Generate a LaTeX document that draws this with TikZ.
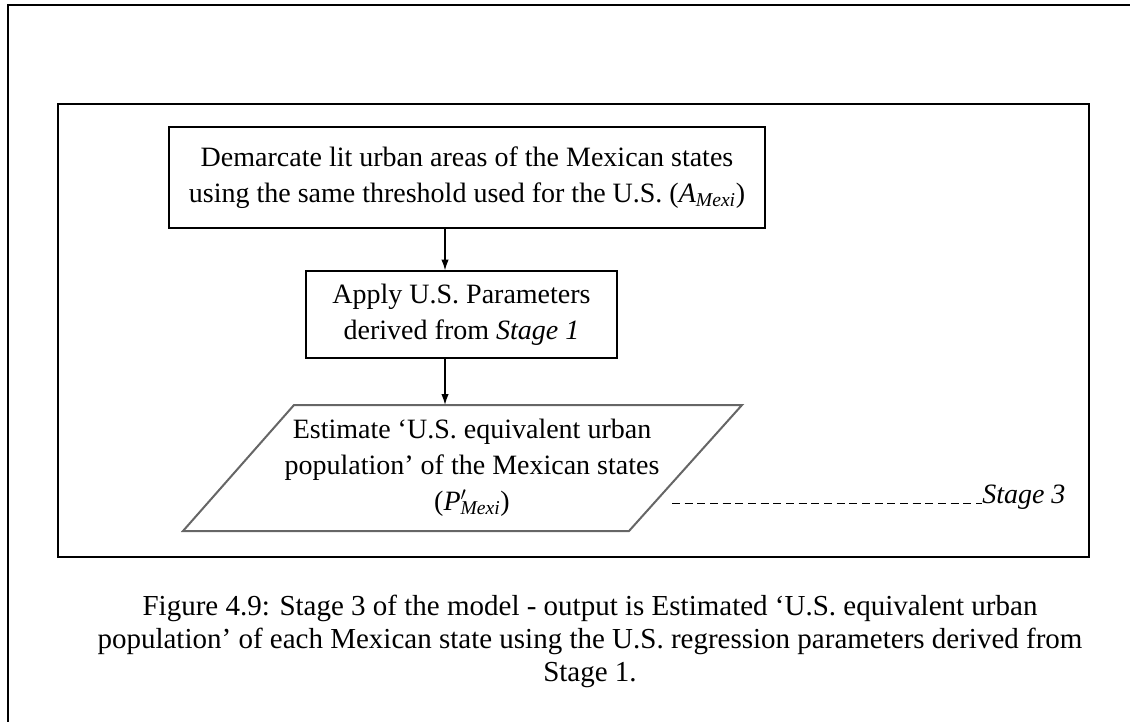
\documentclass[tikz,border=0pt]{standalone}
\usepackage{fontspec}
\setmainfont{Liberation Serif}
\usetikzlibrary{arrows.meta}

\tikzset{
  frame/.style={draw=black, line width=1.3pt},
  stepbox/.style={draw=black, line width=1.1pt, align=center, inner sep=0pt,
    font=\fontsize{21pt}{27pt}\selectfont},
  steptext/.style={align=center, inner sep=0pt, font=\fontsize{21pt}{27pt}\selectfont},
  outbox/.style={draw=black!60, line width=1.5pt},
  flowarrow/.style={-{Latex[length=8pt,width=5.5pt]}, line width=0.8pt},
  leader/.style={dash pattern={on 6pt off 3.5pt}, line width=0.7pt},
}

\begin{document}
\begin{tikzpicture}[x=0.75pt,y=0.75pt,yscale=-1,xscale=1]
\useasboundingbox (0,0) rectangle (1130,722);

%Shape: Frame of the page
\draw [frame] (1130,5) -| (8,722);
%Shape: Rectangle round the stage
\draw [frame] (58,104) rectangle (1089,557);

% Text Node
\node [stepbox, minimum width=447pt, minimum height=75.75pt] (demarcate) at (467,177.5)
  {Demarcate lit urban areas of the Mexican states\\
   using the same threshold used for the U.S. (\textit{A}\textsubscript{\textit{Mexi}})};
% Text Node
\node [stepbox, minimum width=233.25pt, minimum height=65.25pt] (apply) at (461.5,314.5)
  {Apply U.S. Parameters\\ derived from \textit{Stage 1}};

%Shape: Parallelogram
\draw [outbox] (294,405) -- (742,405) -- (629,531) -- (183,531) -- cycle;
% Text Node
\node [steptext, minimum height=94.5pt] (estimate) at (472,468)
  {Estimate ‘U.S. equivalent urban\\
   population’ of the Mexican states\\
   (\textit{P}\rlap{$'$}\textsubscript{\textit{Mexi}})};

%Straight Lines
\coordinate (flow) at (445,0);
\draw [flowarrow] (flow |- demarcate.south) -- (flow |- apply.north);
\draw [flowarrow] (flow |- apply.south) -- (flow |- estimate.north);

% Text Node
\node [anchor=base west, inner sep=0pt, font=\fontsize{21pt}{27pt}\selectfont] (stage) at (982,503) {\textit{Stage 3}};
%Straight Lines
\coordinate (lead) at (672,503);
\draw [leader] (lead) -- (stage.base west);

% Text Node
\node [align=center, anchor=base, inner sep=0pt, font=\fontsize{21.75pt}{24.75pt}\selectfont] (caption) at (590,681)
  {Figure 4.9: Stage 3 of the model - output is Estimated ‘U.S. equivalent urban\\
   population’ of each Mexican state using the U.S. regression parameters derived from\\
   Stage 1.};

\end{tikzpicture}
\end{document}
